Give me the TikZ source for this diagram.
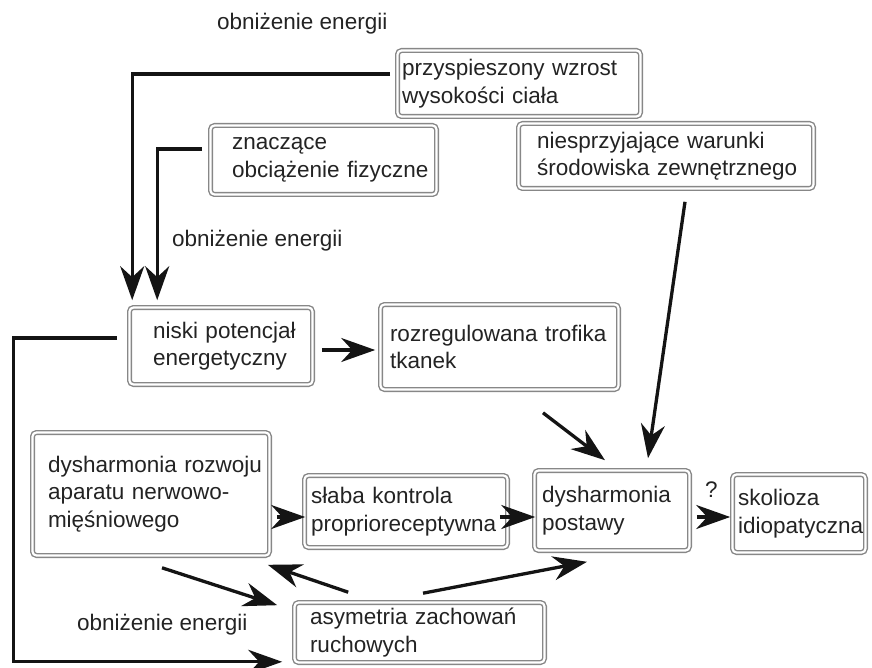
\documentclass[tikz,border=0pt]{standalone}
\usepackage{fontspec}
\setmainfont{Liberation Sans}
\usetikzlibrary{arrows.meta,calc}
\definecolor{boxgray}{RGB}{135,135,135}
\definecolor{ink}{RGB}{35,35,35}
\definecolor{arrowink}{RGB}{20,20,20}
\tikzset{
  box/.style={draw=boxgray, double=white, double distance=2.2pt, line width=1.4pt,
    rounded corners=4pt, inner xsep=0pt, inner ysep=0pt, outer sep=0pt,
    align=left, font=\fontsize{22.5}{27.5}\selectfont, text=ink},
  lbl/.style={font=\fontsize{22.5}{27.5}\selectfont, text=ink, inner sep=0pt},
  arr/.style={draw=arrowink, line width=3.3pt,
    -{Stealth[length=34pt,width=24pt,inset=11pt]}},
}
\begin{document}
\begin{tikzpicture}[x=1pt,y=-1pt]
\useasboundingbox (0,0) rectangle (872,668);

% boxes
\node[box, minimum width=243pt, minimum height=66pt, text width=234pt] (b1) at (519,83.5)
  {\mbox{przyspieszony wzrost}\\\mbox{wysokości ciała}};
\node[box, minimum width=226pt, minimum height=69pt, text width=183pt] (b2) at (323.5,160)
  {\mbox{znaczące}\\\mbox{obciążenie fizyczne}};
\node[box, minimum width=295pt, minimum height=65pt, text width=258pt] (b3) at (666,156)
  {\mbox{niesprzyjające warunki}\\\mbox{środowiska zewnętrznego}};
\node[box, minimum width=183pt, minimum height=77pt, text width=136pt] (b4) at (221,346)
  {\mbox{niski potencjał}\\\mbox{energetyczny}};
\node[box, minimum width=238pt, minimum height=85pt, text width=219pt] (b5) at (499.5,347)
  {\mbox{rozregulowana trofika}\\\mbox{tkanek}};
\node[box, minimum width=237pt, minimum height=123pt, text width=206pt] (b6) at (151,494)
  {\mbox{dysharmonia rozwoju}\\\mbox{aparatu nerwowo-}\\\mbox{mięśniowego}};
\node[box, minimum width=203pt, minimum height=72pt, text width=190pt] (b7) at (406,511.5)
  {\mbox{słaba kontrola}\\\mbox{proprioreceptywna}};
\node[box, minimum width=155pt, minimum height=80pt, text width=140pt] (b8) at (612,510.5)
  {\mbox{dysharmonia}\\\mbox{postawy}};
\node[box, minimum width=133pt, minimum height=78pt, text width=122pt] (b9) at (799,513.5)
  {\mbox{skolioza}\\\mbox{idiopatyczna}};
\node[box, minimum width=250pt, minimum height=60pt, text width=219pt] (b10) at (419.5,632.5)
  {\mbox{asymetria zachowań}\\\mbox{ruchowych}};

% labels
\node[lbl, anchor=base west] (l1) at (217,30) {obniżenie energii};
\node[lbl, anchor=base west] (l2) at (172,247) {obniżenie energii};
\node[lbl, anchor=base west] (l3) at (77,630) {obniżenie energii};
\node[lbl, anchor=base west] (q) at (705,497) {?};

% connectors
\draw[arr] ([shift={(-7.5,-9.5)}]b1.west) -| ([shift={(2.7,-7.3)}]b4.north west);
\draw[arr] ([shift={(-8.5,-11)}]b2.west) -| ([shift={(27.7,-7.3)}]b4.north west);
\draw[arr] ([shift={(9.3,4)}]b4.east) -- ([shift={(-5.3,3)}]b5.west);
\draw[arr] ([shift={(-12.3,-8)}]b4.west) -- ++(-104,0) |- ([shift={(-12.3,-0.7)}]b10.south west);
\draw[arr] ([shift={(19,13.3)}]b3.south) -- ([shift={(36,-12.3)}]b8.north);
\draw[arr] ([shift={(43.5,23.3)}]b5.south) -- ([shift={(-7,-10.3)}]b8.north);
\draw[arr] ([shift={(7.3,23)}]b6.east) -- ([shift={(0.7,5.5)}]b7.west);
\draw[arr] ([shift={(-7.7,5.5)}]b7.east) -- ([shift={(0.7,6.5)}]b8.west);
\draw[arr] ([shift={(7.3,6.5)}]b8.east) -- ([shift={(-2.3,3.5)}]b9.west);
\draw[arr] ([shift={(11,12.3)}]b6.south) -- ([shift={(-17.3,2.7)}]b10.north west);
\draw[arr] ([shift={(53.7,-10.3)}]b10.north west) -- ([shift={(-1.7,9.3)}]b6.south east);
\draw[arr] ([shift={(3.5,-9.3)}]b10.north) -- ([shift={(-25,11.3)}]b8.south);
\end{tikzpicture}
\end{document}
